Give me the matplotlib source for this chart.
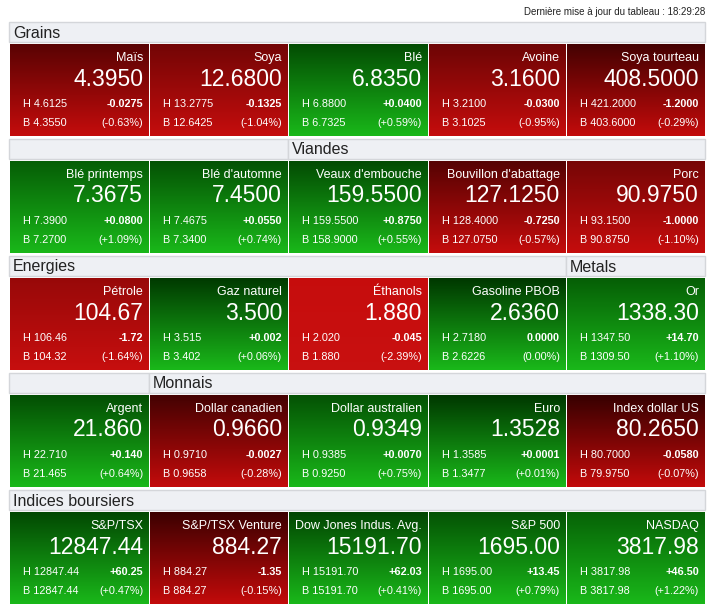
import numpy as np
import matplotlib.pyplot as plt

plt.rcParams['font.family'] = ['Liberation Sans', 'DejaVu Sans']

names = ["Maïs", "Soya", "Blé", "Avoine", "Soya tourteau",
         "Blé printemps", "Blé d'automne", "Veaux d'embouche", "Bouvillon d'abattage", "Porc",
         "Pétrole", "Gaz naturel", "Éthanols", "Gasoline PBOB", "Or",
         "Argent", "Dollar canadien", "Dollar australien", "Euro", "Index dollar US",
         "S&P/TSX", "S&P/TSX Venture", "Dow Jones Indus. Avg.", "S&P 500", "NASDAQ"]
prices = ["4.3950", "12.6800", "6.8350", "3.1600", "408.5000",
          "7.3675", "7.4500", "159.5500", "127.1250", "90.9750",
          "104.67", "3.500", "1.880", "2.6360", "1338.30",
          "21.860", "0.9660", "0.9349", "1.3528", "80.2650",
          "12847.44", "884.27", "15191.70", "1695.00", "3817.98"]
highs = ["4.6125", "13.2775", "6.8800", "3.2100", "421.2000",
         "7.3900", "7.4675", "159.5500", "128.4000", "93.1500",
         "106.46", "3.515", "2.020", "2.7180", "1347.50",
         "22.710", "0.9710", "0.9385", "1.3585", "80.7000",
         "12847.44", "884.27", "15191.70", "1695.00", "3817.98"]
lows = ["4.3550", "12.6425", "6.7325", "3.1025", "403.6000",
        "7.2700", "7.3400", "158.9000", "127.0750", "90.8750",
        "104.32", "3.402", "1.880", "2.6226", "1309.50",
        "21.465", "0.9658", "0.9250", "1.3477", "79.9750",
        "12847.44", "884.27", "15191.70", "1695.00", "3817.98"]
changes = ["-0.0275", "-0.1325", "+0.0400", "-0.0300", "-1.2000",
           "+0.0800", "+0.0550", "+0.8750", "-0.7250", "-1.0000",
           "-1.72", "+0.002", "-0.045", "0.0000", "+14.70",
           "+0.140", "-0.0027", "+0.0070", "+0.0001", "-0.0580",
           "+60.25", "-1.35", "+62.03", "+13.45", "+46.50"]
pcts = [-0.63, -1.04, 0.59, -0.95, -0.29,
        1.09, 0.74, 0.55, -0.57, -1.10,
        -1.64, 0.06, -2.39, 0.00, 1.10,
        0.64, -0.28, 0.75, 0.01, -0.07,
        0.47, -0.15, 0.41, 0.79, 1.22]

# section headers per row: (first_col, last_col, label)
headers = [
    [(0, 4, "Grains")],
    [(0, 1, ""), (2, 4, "Viandes")],
    [(0, 3, "Energies"), (4, 4, "Metals")],
    [(0, 0, ""), (1, 4, "Monnais")],
    [(0, 4, "Indices boursiers")],
]

W, H = 715, 612
fig = plt.figure(figsize=(W / 100, H / 100), dpi=100)
ax = fig.add_axes([0, 0, 1, 1])
ax.set_xlim(0, W)
ax.set_ylim(H, 0)
ax.axis('off')

col_x = [10, 150, 289, 429, 567, 706]
row_y = [22, 139, 256, 373, 490]
head_h = 20
tile_h = 92

ax.text(705, 12, "Dernière mise à jour du tableau : 18:29:28", ha='right', va='center', fontsize=7, color='#222222')


def fmt_pct(p):
    s = "%+.2f" % p if p != 0 else "0.00"
    return "(" + s + "%)"


for r in range(5):
    y0 = row_y[r]
    for c0, c1, label in headers[r]:
        x0, x1 = col_x[c0] - 1, col_x[c1 + 1] - 1
        ax.add_patch(plt.Rectangle((x0, y0), x1 - x0, head_h, facecolor='#eef0f4', edgecolor='#d4d6da', lw=1))
        if label:
            ax.text(x0 + 4, y0 + head_h / 2 + 1, label, ha='left', va='center', fontsize=11.5, color='#222222')
    ty = y0 + head_h + 2
    for c in range(5):
        i = r * 5 + c
        x0, x1 = col_x[c], col_x[c + 1] - 1
        p = pcts[i]
        f = min(abs(p) / 2.4, 1.0)
        if p < 0:
            top = np.array([0.20, 0.0, 0.0]) * (1 - f) + np.array([0.78, 0.05, 0.05]) * f
            bot = np.array([0.76, 0.04, 0.04]) * (1 - f * 0.3) + np.array([0.85, 0.12, 0.12]) * f * 0.3
        else:
            top = np.array([0.0, 0.22, 0.0]) * (1 - f) + np.array([0.05, 0.55, 0.05]) * f
            bot = np.array([0.10, 0.72, 0.10])
        t = np.linspace(0, 1, 64)[:, None, None]
        grad = top * (1 - t) + bot * t
        ax.imshow(grad, extent=(x0, x1, ty + tile_h, ty), aspect='auto', interpolation='bilinear', zorder=1)
        rx = x1 - 6
        lx = x0 + 13
        ax.text(rx, ty + 14, names[i], ha='right', va='center', fontsize=9, color='white', zorder=2)
        ax.text(rx, ty + 35, prices[i], ha='right', va='center', fontsize=16.5, color='white', zorder=2)
        ax.text(lx, ty + 60, "H " + highs[i], ha='left', va='center', fontsize=7.8, color='white', zorder=2)
        ax.text(lx, ty + 79, "B " + lows[i], ha='left', va='center', fontsize=7.8, color='white', zorder=2)
        ax.text(rx, ty + 60, changes[i], ha='right', va='center', fontsize=7.8, color='white', fontweight='bold', zorder=2)
        ax.text(rx, ty + 79, fmt_pct(p), ha='right', va='center', fontsize=7.8, color='white', zorder=2)

ax.set_xlim(0, W)
ax.set_ylim(H, 0)
fig.savefig("out.png", dpi=100)
